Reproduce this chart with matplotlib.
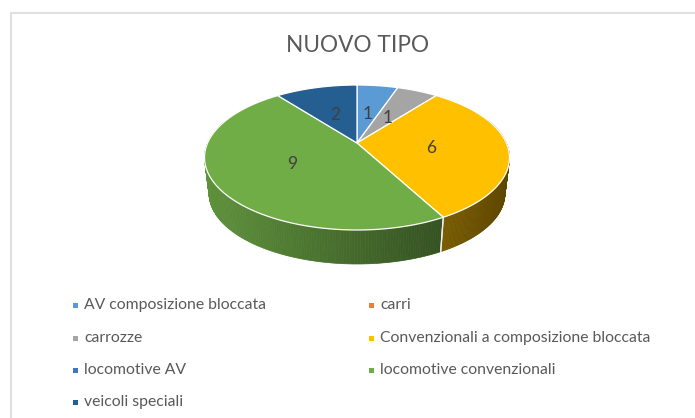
"""3D-look pie chart NUOVO TIPO, drawn on a pixel-sized axes."""

import matplotlib

matplotlib.use("Agg")

import matplotlib.pyplot as plt
import numpy as np
from matplotlib.colors import to_rgb
from matplotlib.patches import Polygon, Rectangle

plt.rcParams["font.family"] = ["Lato", "DejaVu Sans"]

CATEGORIES = [
    "AV composizione bloccata",
    "carri",
    "carrozze",
    "Convenzionali a composizione bloccata",
    "locomotive AV",
    "locomotive convenzionali",
    "veicoli speciali",
]
VALUES = [1, 0, 1, 6, 0, 9, 2]
COLORS = ["#5B9BD5", "#ED7D31", "#A5A5A5", "#FFC000", "#4472C4", "#70AD47", "#255E91"]

WIDTH, HEIGHT = 695, 418
CENTER_X, CENTER_Y = 357.0, 143.0
RADIUS_X, RADIUS_Y, TILT = 149.4, 69.6, 0.2
BOTTOM_SCALE, BOTTOM_DROP = 0.97, 36.6
TEXT_COLOR = "#595959"
LABEL_COLOR = "#404040"
LABEL_POS = {0: (368, 114), 2: (388, 118), 3: (431, 148), 5: (292, 164), 6: (335, 115)}
LEGEND_COLS = [75, 371]
LEGEND_ROWS = [305, 338, 370, 402]


def rim(angle, bottom=False):
    # angle in radians, clockwise from the top, projected with some perspective
    u, v = np.sin(angle), np.cos(angle)
    x = RADIUS_X * u / (1 + TILT * v)
    y = RADIUS_Y * v / (1 + TILT * v)
    if bottom:
        return CENTER_X + x * BOTTOM_SCALE, CENTER_Y - y * BOTTOM_SCALE + BOTTOM_DROP
    return CENTER_X + x, CENTER_Y - y


def side_color(color, x):
    # the side wall darkens from left to right
    t = (x - 204) / 305
    return np.array(to_rgb(color)) * (0.84 - 0.47 * t)


fig = plt.figure(figsize=(WIDTH / 100, HEIGHT / 100), dpi=100)
axis = fig.add_axes([0, 0, 1, 1])
axis.set_xlim(0, WIDTH)
axis.set_ylim(HEIGHT, 0)
axis.axis("off")

# chart frame
axis.plot([10.5, 10.5, WIDTH], [HEIGHT, 12.5, 12.5], color="#D9D9D9", lw=1.2)

edges = np.radians(np.concatenate(([0], np.cumsum(VALUES))) * 360 / sum(VALUES))

# side wall first, only the front part of the rim is visible
for i, color in enumerate(COLORS):
    if VALUES[i] == 0:
        continue
    steps = np.linspace(edges[i], edges[i + 1], 200)
    for a0, a1 in zip(steps[:-1], steps[1:]):
        x0, y0 = rim(a0)
        x1, y1 = rim(a1)
        if np.cos((a0 + a1) / 2) > 0.35:
            continue
        bx0, by0 = rim(a0, bottom=True)
        bx1, by1 = rim(a1, bottom=True)
        shade = side_color(color, (x0 + x1) / 2)
        axis.add_patch(
            Polygon(
                [(x0, y0), (x1, y1), (bx1, by1), (bx0, by0)],
                facecolor=shade,
                edgecolor=shade,
                lw=0.5,
            )
        )

# white seam where the wall changes colour
for edge in edges[1:-1]:
    if np.cos(edge) < -0.3 and np.sin(edge) > 0:
        x0, y0 = rim(edge)
        x1, y1 = rim(edge, bottom=True)
        axis.plot([x0, x1], [y0, y1], color="#F2F2F2", lw=0.9)

# top face
for i, color in enumerate(COLORS):
    if VALUES[i] == 0:
        continue
    steps = np.linspace(edges[i], edges[i + 1], 120)
    points = [(CENTER_X, CENTER_Y)] + [rim(a) for a in steps]
    axis.add_patch(Polygon(points, facecolor=color, edgecolor="#FFFFFF", lw=0.9, joinstyle="round"))

for i, (x, y) in LABEL_POS.items():
    axis.text(x, y, str(VALUES[i]), color=LABEL_COLOR, fontsize=12.5, ha="center", va="center")

axis.text(358, 45, "NUOVO TIPO", color=TEXT_COLOR, fontsize=16.3, ha="center", va="center")

# legend, two columns filled row by row
for i, (name, color) in enumerate(zip(CATEGORIES, COLORS)):
    x = LEGEND_COLS[i % 2]
    y = LEGEND_ROWS[i // 2]
    axis.add_patch(Rectangle((x - 2.5, y - 2.5), 5, 5, facecolor=color, edgecolor="none"))
    axis.text(x + 9, y, name, color=TEXT_COLOR, fontsize=11.3, ha="left", va="center")

fig.savefig("out.png", dpi=100, facecolor="white")
plt.close(fig)
